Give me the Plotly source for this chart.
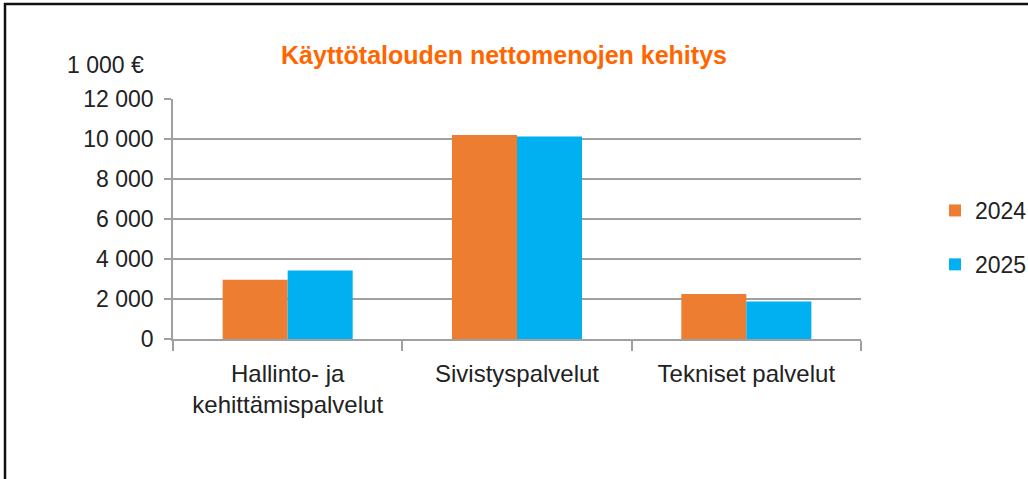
import plotly.graph_objects as go

categories = ["Hallinto- ja<br>kehittämispalvelut", "Sivistyspalvelut", "Tekniset palvelut"]
series_names = ["2024", "2025"]
values_2024 = [2960, 10200, 2250]
values_2025 = [3430, 10120, 1870]
y_tick_vals = [0, 2000, 4000, 6000, 8000, 10000, 12000]
y_tick_text = ["0", "2 000", "4 000", "6 000", "8 000", "10 000", "12 000"]
unit_label = "1 000 €"
title_text = "Käyttötalouden nettomenojen kehitys"

FONT = "Liberation Sans, Arial, sans-serif"
FS = 23
colors = ["#ED7D31", "#00B0F0"]

fig = go.Figure()
for name, vals, col in zip(series_names, [values_2024, values_2025], colors):
    fig.add_trace(go.Bar(x=categories, y=vals, name=name, marker_color=col,
                         marker_line_width=0, legendgroup=name))

W, H = 1028, 479
L, R, T, B = 173, 167, 99, 140
pw, ph = W - L - R, H - T - B

def px_x(p):
    return (p - L) / pw

def px_y(p):
    return (H - B - p) / ph

fig.update_layout(
    width=W, height=H, autosize=False,
    margin=dict(l=L, r=R, t=T, b=B, autoexpand=False),
    paper_bgcolor="white", plot_bgcolor="white",
    font=dict(family=FONT, size=FS, color="#222222"),
    bargap=0.433, bargroupgap=0,
    title=dict(text="<b>" + title_text + "</b>", x=504 / W, xanchor="center",
               y=1 - 55 / H, yanchor="middle",
               font=dict(family=FONT, size=25, color="#FF6600")),
    legend=dict(x=px_x(935), xanchor="left", y=px_y(189), yanchor="top",
                font=dict(family=FONT, size=FS, color="#222222"),
                tracegroupgap=21, traceorder="grouped", bgcolor="rgba(0,0,0,0)"),
    xaxis=dict(showline=True, linecolor="#A0A0A0", linewidth=1.5,
               ticks="outside", tickson="boundaries", ticklen=10,
               tickcolor="#A0A0A0", tickwidth=1.5, showgrid=False,
               tickangle=0, automargin=False, ticklabelstandoff=12,
               tickfont=dict(size=24, color="#222222")),
    yaxis=dict(range=[0, 12000], tickvals=y_tick_vals, ticktext=y_tick_text,
               showline=True, linecolor="#A0A0A0", linewidth=1.5,
               ticks="outside", ticklen=7, tickcolor="#A0A0A0", tickwidth=1.5,
               showgrid=True, gridcolor="#A0A0A0", gridwidth=1.5,
               zeroline=False, ticklabelstandoff=6, automargin=False,
               tickfont=dict(size=FS, color="#222222")),
    annotations=[dict(text=unit_label, xref="paper", yref="paper",
                      x=px_x(146), xanchor="right", y=px_y(65), yanchor="middle",
                      showarrow=False, font=dict(family=FONT, size=FS, color="#222222"))],
    shapes=[dict(type="rect", xref="paper", yref="paper",
                 x0=px_x(5), x1=px_x(1040), y0=px_y(490), y1=px_y(4),
                 line=dict(color="#111111", width=2.5), fillcolor="rgba(0,0,0,0)",
                 layer="above")],
)

fig.write_html("out.html", config={"displayModeBar": False},
               post_script="document.body.style.margin='0';")
